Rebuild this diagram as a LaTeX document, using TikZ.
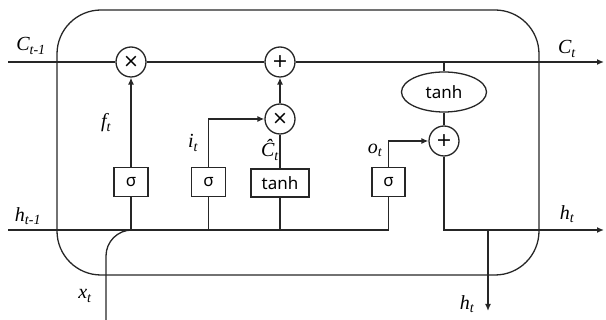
\documentclass[tikz,border=0pt]{standalone}
\usepackage{fontspec}
\setmainfont{Liberation Serif}
\newfontfamily\gatefont{Noto Sans}
\newfontfamily\opfont{DejaVu Sans}
\usetikzlibrary{shapes.geometric,arrows.meta}
\tikzset{
  conn/.style={line width=1.3pt, draw=black!85},
  arr/.style={conn, -{Latex[length=7pt,width=6pt]}},
  opnode/.style={circle, draw=black!85, line width=1.3pt, minimum size=30pt, inner sep=0pt, font=\opfont\fontsize{19}{19}\selectfont},
  gatebox/.style={rectangle, draw=black!85, line width=1.3pt, minimum height=29pt, inner sep=0pt, font=\gatefont\fontsize{17}{17}\selectfont},
  actell/.style={ellipse, draw=black!85, line width=1.3pt, minimum width=85pt, minimum height=40pt, inner sep=0pt, font=\gatefont\fontsize{17}{17}\selectfont},
  lbl/.style={inner sep=0pt, font=\itshape\fontsize{20}{20}\selectfont}
}
\begin{document}
\begin{tikzpicture}[x=1pt,y=-1pt]
\useasboundingbox (0,0) rectangle (606,320);
% cell outline
\draw[conn, rounded corners=44pt] (57,10) rectangle (539,275);
% operators
\node[opnode] (mul1) at (131,62) {×};
\node[opnode] (add1) at (280,62) {+};
\node[opnode] (mul2) at (280,119) {×};
\node[actell] (tanhE) at (444,92) {tanh};
\node[opnode] (add2) at (444,141) {+};
% gates
\node[gatebox, minimum width=34pt] (sf) at (131,182) {σ};
\node[gatebox, minimum width=34pt] (si) at (208.5,182) {σ};
\node[gatebox, minimum width=58pt, minimum height=28pt] (tb) at (280,183) {tanh};
\node[gatebox, minimum width=33pt] (so) at (388.5,182) {σ};
% coordinates
\coordinate (cin) at (8,62);
\coordinate (cout) at (604,62);
\coordinate (ctap) at (444,62);
\coordinate (hin) at (8,230);
\coordinate (xin) at (106,320);
\coordinate (xc) at (106,230);
\coordinate (jf) at (131,230);
\coordinate (ji) at (208.5,230);
\coordinate (jc) at (280,230);
\coordinate (jo) at (388.5,230);
\coordinate (hout) at (604,230);
\coordinate (hbr) at (488,230);
\coordinate (hdown) at (488,311);
% cell state line
\draw[conn] (cin) -- (mul1.west);
\draw[conn] (mul1.east) -- (add1.west);
\draw[arr] (add1.east) -- (cout);
\draw[conn] (ctap) -- (tanhE.north);
\draw[conn] (tanhE.south) -- (add2.north);
% hidden input line
\draw[conn] (hin) -- (jo) -- (so.south);
\draw[conn] (jf) -- (sf.south);
\draw[conn] (ji) -- (si.south);
\draw[conn] (jc) -- (tb.south);
\draw[conn, rounded corners=26pt] (xin) -- (xc) -- (jf);
% gate outputs
\draw[arr] (sf.north) -- (mul1.south);
\draw[arr] (si.north) |- (mul2.west);
\draw[conn] (tb.north) -- (mul2.south);
\draw[arr] (mul2.north) -- (add1.south);
\draw[arr] (so.north) |- (add2.west);
% output
\draw[arr] (add2.south) |- (hout);
\draw[arr] (hbr) -- (hdown);
% labels
\node[lbl] (lc0) at (31,46) {C\textsubscript{t-1}};
\node[lbl] (lc1) at (567,49) {C\textsubscript{t}};
\node[lbl] (lh0) at (28,216) {h\textsubscript{t-1}};
\node[lbl] (lh1) at (567,214) {h\textsubscript{t}};
\node[lbl] (lh2) at (467,304) {h\textsubscript{t}};
\node[lbl] (lx) at (85,296) {x\textsubscript{t}};
\node[lbl] (lf) at (106,123) {f\textsubscript{t}};
\node[lbl] (li) at (193,143) {i\textsubscript{t}};
\node[lbl] (lct) at (270,150) {Ĉ\textsubscript{t}};
\node[lbl] (lo) at (375,150) {o\textsubscript{t}};
\end{tikzpicture}
\end{document}
